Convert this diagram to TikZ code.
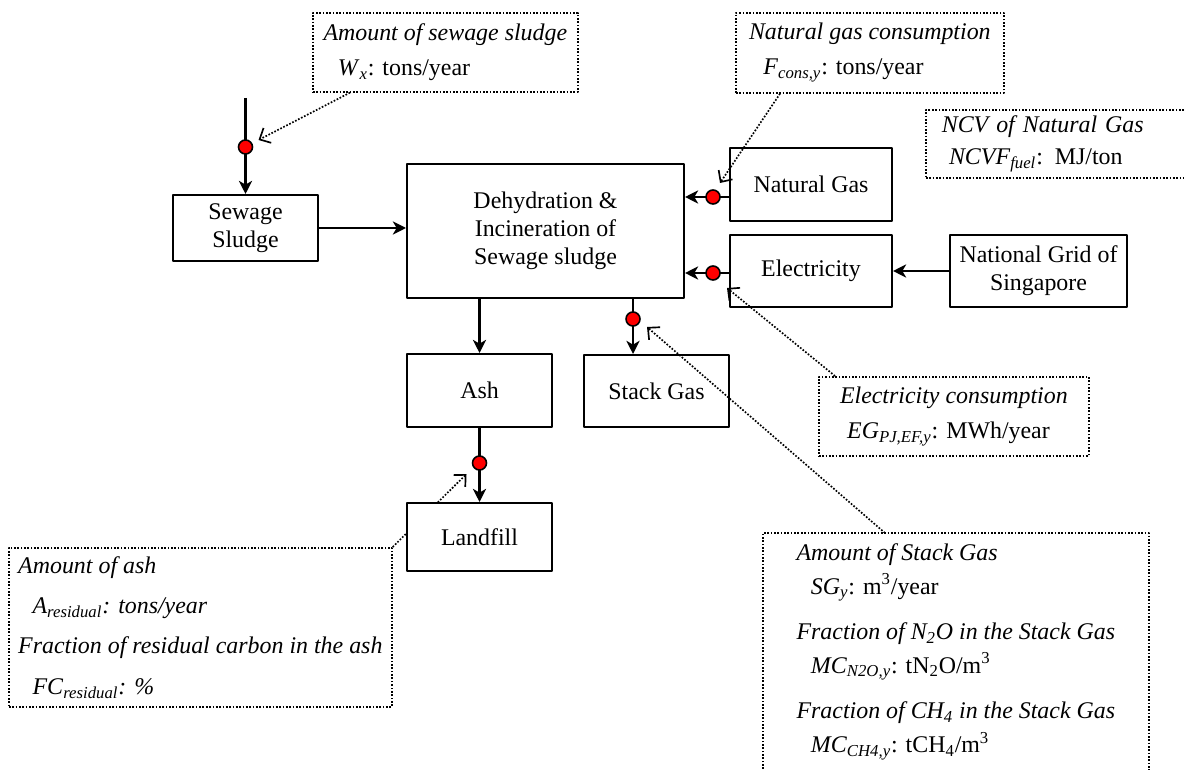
\documentclass[tikz,border=0pt]{standalone}
\usepackage{fontspec}
\setmainfont{Liberation Serif}
\usetikzlibrary{arrows.meta,backgrounds}

\begin{document}
\begin{tikzpicture}[line cap=round,line join=round,
  font=\fontsize{13.6}{16}\selectfont,
  block/.style={draw,line width=1.15pt,fill=white,align=center,inner sep=2pt},
  flow/.style={line width=1.15pt,-{Stealth[length=7.5pt,width=7.5pt,inset=2.2pt]}},
  meter/.style={circle,draw,line width=0.9pt,fill=red,inner sep=0pt,minimum size=0.28cm},
  note/.style={draw,line width=0.95pt,line cap=butt,dash pattern=on 0.95pt off 0.95pt,
    align=left,anchor=north west,inner sep=2pt},
  pointer/.style={line width=0.95pt,line cap=butt,dash pattern=on 0.95pt off 0.95pt,
    -{Straight Barb[length=5pt,width=9.5pt]}}]
  \useasboundingbox (0,0) rectangle (23.68,15.38);
  \clip (0,0) rectangle (23.68,15.38);
  \coordinate (src) at (4.91,13.42);
  \node[block,minimum width=2.90cm,minimum height=1.32cm] (sludge) at (4.91,10.82) {Sewage\\Sludge};
  \node[block,minimum width=5.54cm,minimum height=2.68cm] (dehyd) at (10.91,10.76)
    {Dehydration \&\\Incineration of\\Sewage sludge};
  \node[block,minimum width=3.24cm,minimum height=1.46cm] (natgas) at (16.22,11.69) {Natural Gas};
  \node[block,minimum width=3.24cm,minimum height=1.44cm] (elec) at (16.22,9.96) {Electricity};
  \node[block,minimum width=3.54cm,minimum height=1.44cm] (grid) at (20.77,9.96) {National Grid of\\Singapore};
  \node[block,minimum width=2.90cm,minimum height=1.46cm] (ash) at (9.59,7.57) {Ash};
  \node[block,minimum width=2.90cm,minimum height=1.44cm] (stack) at (13.13,7.56) {Stack Gas};
  \node[block,minimum width=2.90cm,minimum height=1.36cm] (landfill) at (9.59,4.64) {Landfill};
  \node[meter] (d1) at (4.91,12.44) {};
  \node[meter] (d2) at (14.26,11.44) {};
  \node[meter] (d3) at (14.26,9.92) {};
  \node[meter] (d4) at (12.66,9.00) {};
  \node[meter] (d5) at (9.59,6.12) {};
  \node[note,minimum width=5.30cm,minimum height=1.58cm] (lblW) at (6.24,15.14)
    {\textit{Amount of sewage sludge}\\[4pt]\hspace*{0.6em}\textit{W}\textsubscript{\textit{x}}: tons/year};
  \node[note,minimum width=5.36cm,minimum height=1.60cm] (lblF) at (14.70,15.14)
    {\textit{Natural gas consumption}\\[4pt]\hspace*{0.6em}\textit{F}\textsubscript{\textit{cons,y}}: tons/year};
  \node[note,text width=4.90cm,inner xsep=0.32cm,minimum height=1.36cm] (lblN) at (18.50,13.20)
    {\textit{NCV of Natural Gas}\\[2pt]\hspace*{0.3em}\textit{NCVF}\textsubscript{\textit{fuel}}: MJ/ton};
  \node[note,minimum width=5.40cm,minimum height=1.58cm] (lblE) at (16.36,7.86)
    {\textit{Electricity consumption}\\[4pt]\hspace*{0.3em}\textit{EG}\textsubscript{\textit{PJ,EF,y}}: MWh/year};
  \node[note,minimum width=7.66cm,minimum height=3.18cm] (lblA) at (0.16,4.44)
    {\textit{Amount of ash}\\[7pt]
     \hspace*{0.6em}\textit{A}\textsubscript{\textit{residual}}\textit{: tons/year}\\[7pt]
     \textit{Fraction of residual carbon in the ash}\\[7pt]
     \hspace*{0.6em}\textit{FC}\textsubscript{\textit{residual}}\textit{: \%}};
  \node[note,draw=none,minimum width=7.68cm,inner ysep=0.2cm] (lblS) at (15.26,4.72)
    {\textit{Amount of Stack Gas}\\[3pt]
     \hspace*{0.6em}\textit{SG}\textsubscript{\textit{y}}: m\textsuperscript{3}/year\\[10pt]
     \textit{Fraction of N\textsubscript{2}O in the Stack Gas}\\[3pt]
     \hspace*{0.6em}\textit{MC}\textsubscript{\textit{N2O,y}}: tN\textsubscript{2}O/m\textsuperscript{3}\\[10pt]
     \textit{Fraction of CH\textsubscript{4} in the Stack Gas}\\[3pt]
     \hspace*{0.6em}\textit{MC}\textsubscript{\textit{CH4,y}}: tCH\textsubscript{4}/m\textsuperscript{3}};
  \draw[note] (lblS.north west |- 0,-0.4) -- (lblS.north west) -- (lblS.north east) -- (lblS.north east |- 0,-0.4);
  \begin{scope}[on background layer]
    \draw[flow] (src) -- (sludge.north);
    \draw[flow] (sludge.east) -- (sludge.east -| dehyd.west);
    \draw[flow] (natgas.west |- d2) -- (dehyd.east |- d2);
    \draw[flow] (grid.west) -- (elec.east);
    \draw[flow] (elec.west |- d3) -- (dehyd.east |- d3);
    \draw[flow] (dehyd.south -| ash.north) -- (ash.north);
    \draw[flow] (dehyd.south -| d4) -- (stack.north -| d4);
    \draw[flow] (ash.south) -- (landfill.north);
    \draw[pointer] (lblA.north east) -- ([shift={(-0.26,-0.22)}]d5.center);
  \end{scope}
  \draw[pointer] ([xshift=0.76cm]lblW.south west) -- ([shift={(0.26,0.14)}]d1.center);
  \draw[pointer] ([xshift=0.90cm]lblF.south west) -- ([shift={(0.14,0.28)}]d2.center);
  \draw[pointer] ([xshift=0.34cm]lblE.north west) -- ([shift={(0.28,-0.30)}]d3.center);
  \draw[pointer] ([xshift=2.44cm]lblS.north west) -- ([shift={(0.28,-0.16)}]d4.center);
\end{tikzpicture}
\end{document}
